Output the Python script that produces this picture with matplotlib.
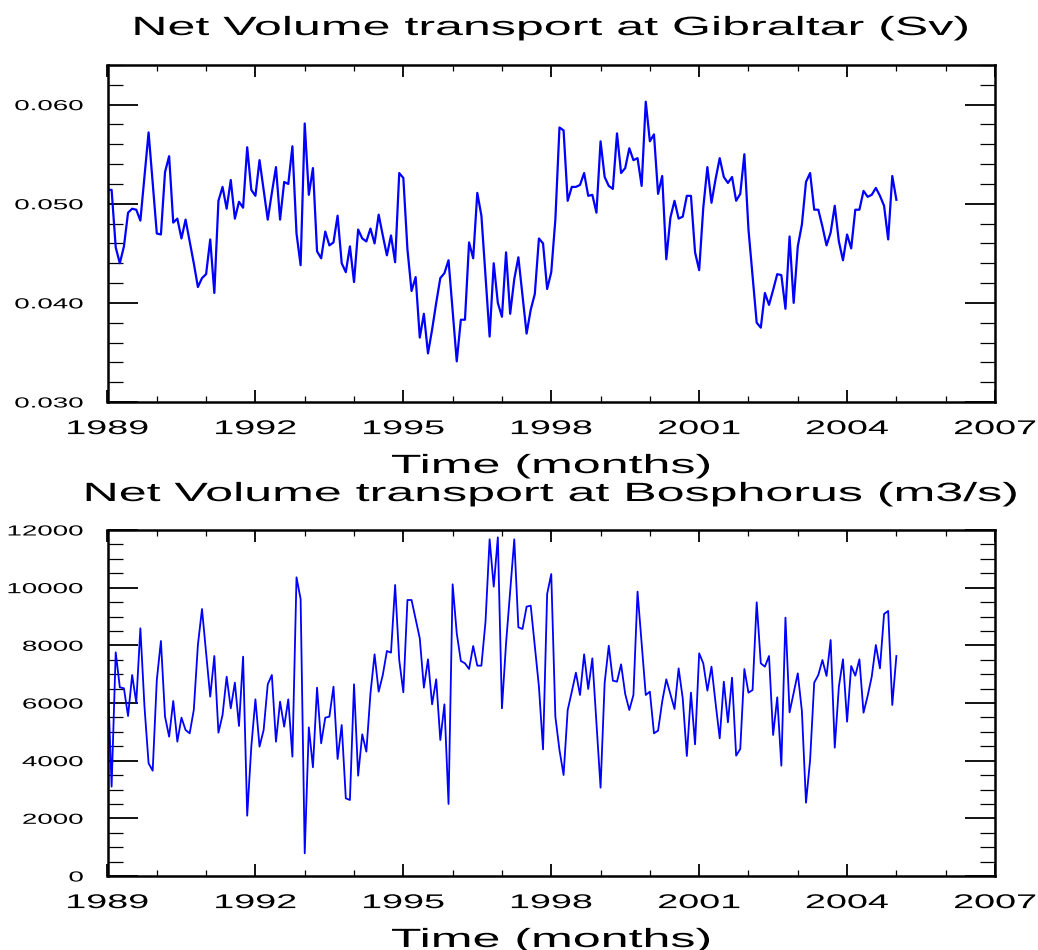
import numpy as np
import matplotlib
matplotlib.use("Agg")
import matplotlib.pyplot as plt
from matplotlib.patheffects import AbstractPathEffect
from matplotlib.transforms import Affine2D
from matplotlib.ticker import MultipleLocator

# ---------------------------------------------------------------------------
# Monthly series, January 1989 - January 2005
# ---------------------------------------------------------------------------
start_year = 1989
n_months = 193

gibraltar_sv = [
    0.0514, 0.0514, 0.0456, 0.0440, 0.0457, 0.0491, 0.0495, 0.0494, 0.0483, 0.0528,
    0.0572, 0.0521, 0.0470, 0.0469, 0.0532, 0.0548, 0.0481, 0.0485, 0.0465, 0.0484,
    0.0462, 0.0440, 0.0416, 0.0425, 0.0429, 0.0464, 0.0410, 0.0503, 0.0517, 0.0495,
    0.0524, 0.0485, 0.0502, 0.0496, 0.0557, 0.0514, 0.0508, 0.0544, 0.0514, 0.0484,
    0.0511, 0.0537, 0.0484, 0.0522, 0.0520, 0.0558, 0.0470, 0.0438, 0.0581, 0.0509,
    0.0536, 0.0452, 0.0445, 0.0472, 0.0458, 0.0461, 0.0488, 0.0440, 0.0431, 0.0457,
    0.0421, 0.0474, 0.0465, 0.0462, 0.0475, 0.0460, 0.0489, 0.0468, 0.0448, 0.0468,
    0.0441, 0.0531, 0.0526, 0.0454, 0.0412, 0.0426, 0.0365, 0.0389, 0.0349, 0.0373,
    0.0400, 0.0425, 0.0430, 0.0443, 0.0392, 0.0341, 0.0383, 0.0383, 0.0461, 0.0445,
    0.0511, 0.0488, 0.0427, 0.0366, 0.0440, 0.0400, 0.0386, 0.0451, 0.0389, 0.0424,
    0.0446, 0.0407, 0.0369, 0.0393, 0.0409, 0.0465, 0.0460, 0.0414, 0.0431, 0.0484,
    0.0577, 0.0574, 0.0503, 0.0517, 0.0517, 0.0519, 0.0531, 0.0508, 0.0509, 0.0491,
    0.0563, 0.0527, 0.0518, 0.0515, 0.0571, 0.0531, 0.0536, 0.0556, 0.0544, 0.0546,
    0.0518, 0.0603, 0.0563, 0.0570, 0.0510, 0.0528, 0.0444, 0.0486, 0.0503, 0.0485,
    0.0487, 0.0508, 0.0508, 0.0451, 0.0433, 0.0496, 0.0537, 0.0501, 0.0525, 0.0546,
    0.0527, 0.0521, 0.0527, 0.0503, 0.0510, 0.0550, 0.0474, 0.0427, 0.0380, 0.0375,
    0.0410, 0.0398, 0.0413, 0.0429, 0.0428, 0.0394, 0.0467, 0.0400, 0.0457, 0.0479,
    0.0522, 0.0531, 0.0494, 0.0494, 0.0477, 0.0458, 0.0471, 0.0498, 0.0462, 0.0443,
    0.0469, 0.0455, 0.0494, 0.0494, 0.0513, 0.0507, 0.0509, 0.0516, 0.0508, 0.0498,
    0.0464, 0.0528, 0.0504,
]

bosphorus_m3s = [
    7087, 3098, 7757, 6544, 6509, 5549, 6971, 6012, 8590, 5873,
    3908, 3653, 6798, 8151, 5526, 4833, 6070, 4659, 5491, 5064,
    4948, 5757, 8012, 9260, 7723, 6220, 7630, 4971, 5584, 6913,
    5815, 6705, 5202, 7607, 2093, 4486, 6127, 4486, 5064, 6648,
    6971, 4659, 6046, 5179, 6127, 4139, 10359, 9607, 786, 5156,
    3769, 6532, 4601, 5491, 5526, 6567, 4058, 5237, 2694, 2636,
    6648, 3480, 4913, 4312, 6335, 7688, 6393, 6971, 7804, 7746,
    10093, 7491, 6370, 9572, 9572, 8902, 8243, 6532, 7515, 5954,
    6821, 4717, 5954, 2497, 10116, 8416, 7457, 7376, 7179, 7977,
    7295, 7295, 8821, 11677, 10035, 11746, 5815, 8070, 9862, 11677,
    8625, 8567, 9341, 9376, 7954, 6567, 4393, 9781, 10474, 5526,
    4370, 3503, 5757, 6393, 7052, 6278, 7688, 6486, 7549, 5295,
    3064, 6705, 7988, 6775, 6740, 7341, 6312, 5757, 6278, 9862,
    8070, 6278, 6393, 4948, 5041, 6046, 6821, 6312, 5792, 7202,
    6162, 4162, 6359, 4567, 7723, 7376, 6428, 7260, 5989, 4775,
    6740, 5330, 6879, 4173, 4405, 7179, 6359, 6451, 9492, 7376,
    7260, 7630, 4890, 6197, 3827, 8960, 5676, 6359, 7029, 5723,
    2543, 4023, 6705, 6971, 7491, 6937, 8185, 4451, 6567, 7515,
    5353, 7283, 6948, 7515, 5665, 6243, 6913, 8012, 7202, 9087,
    9191, 5931, 7630,
]

year_ticks = [1989, 1992, 1995, 1998, 2001, 2004, 2007]
gib_ticks = [0.030, 0.040, 0.050, 0.060]
bos_ticks = [0, 2000, 4000, 6000, 8000, 10000, 12000]

titles = ["Net Volume transport at Gibraltar (Sv)",
          "Net Volume transport at Bosphorus (m3/s)"]
x_label = "Time (months)"

time = start_year + np.arange(n_months) / 12.0


# ---------------------------------------------------------------------------
# Wide lettering: glyph outlines are stretched horizontally about an anchor
# ---------------------------------------------------------------------------
class WideText(AbstractPathEffect):
    def __init__(self, sx=1.9, anchor="center"):
        super().__init__()
        self.sx = sx
        self.anchor = anchor

    def draw_path(self, renderer, gc, tpath, affine, rgbFace=None):
        ext = tpath.get_extents(affine)
        if self.anchor == "right":
            cx = ext.x1
        elif self.anchor == "left":
            cx = ext.x0
        else:
            cx = 0.5 * (ext.x0 + ext.x1)
        stretch = Affine2D().translate(-cx, 0).scale(self.sx, 1.0).translate(cx, 0)
        renderer.draw_path(gc, tpath, affine + stretch, rgbFace)


plt.rcParams["font.family"] = ["Liberation Sans", "DejaVu Sans"]
SX = 1.9

W, H = 1038, 950
fig = plt.figure(figsize=(W / 100, H / 100), dpi=100)
left_px, right_px = 107.5, 995

ax1 = fig.add_axes([left_px / W, (H - 402) / H, (right_px - left_px) / W, 337 / H])
ax2 = fig.add_axes([left_px / W, (H - 876) / H, (right_px - left_px) / W, 346 / H])

ax1.plot(time, gibraltar_sv, color="#0000ff", lw=1.6)
ax2.plot(time, bosphorus_m3s, color="#0000ff", lw=1.3)

ax1.set_ylim(0.030, 0.064)
ax1.set_yticks(gib_ticks)
ax1.set_yticklabels([f"{v:.3f}" for v in gib_ticks])
ax1.yaxis.set_minor_locator(MultipleLocator(0.002))

ax2.set_ylim(0, 12000)
ax2.set_yticks(bos_ticks)
ax2.set_yticklabels([str(v) for v in bos_ticks])
ax2.yaxis.set_minor_locator(MultipleLocator(500))

label_y = [-71 / 337, -71 / 346]
title_y = [1 + 30 / 337, 1 + 29 / 346]

for ax, title, ly, ty in zip((ax1, ax2), titles, label_y, title_y):
    ax.set_xlim(1989, 2007)
    ax.set_xticks(year_ticks)
    ax.set_xticklabels([str(y) for y in year_ticks])
    ax.xaxis.set_minor_locator(MultipleLocator(1))

    ax.tick_params(axis="x", which="major", direction="in", length=8.6, width=1.3,
                   top=True, bottom=True, labelsize=14.3, pad=12.3, colors="black")
    ax.tick_params(axis="x", which="minor", direction="in", length=4.3, width=0.9,
                   top=True, bottom=True)
    ax.tick_params(axis="y", which="major", direction="in", length=21.6, width=1.3,
                   left=True, right=True, labelsize=10.5, pad=17.3)
    ax.tick_params(axis="y", which="minor", direction="in", length=10.8, width=0.9,
                   left=True, right=True)
    for sp in ax.spines.values():
        sp.set_linewidth(1.8)

    for lab in ax.get_xticklabels():
        lab.set_path_effects([WideText(SX, "center")])
    for lab in ax.get_yticklabels():
        lab.set_path_effects([WideText(SX, "right")])

    ax.set_title(title, fontsize=19, y=ty, pad=0,
                 path_effects=[WideText(SX, "center")])
    ax.set_xlabel(x_label, fontsize=19, path_effects=[WideText(SX, "center")])
    ax.xaxis.set_label_coords(0.5, ly)
    ax.xaxis.label.set_verticalalignment("baseline")

fig.savefig("out.png", dpi=100)
